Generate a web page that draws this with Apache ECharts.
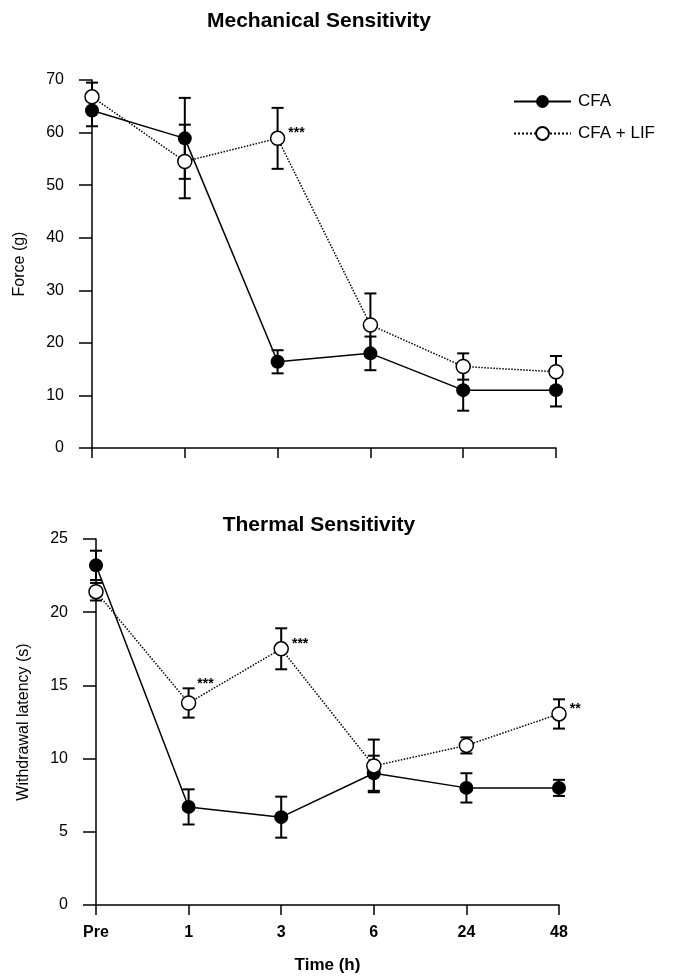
<!DOCTYPE html>
<html>
<head>
<meta charset="utf-8">
<script src="https://cdn.jsdelivr.net/npm/echarts@6/dist/echarts.min.js"></script>
<style>
  html, body { margin: 0; padding: 0; background: #fff; }
  #chart { width: 678px; height: 976px; }
</style>
</head>
<body>
<div id="chart"></div>
<script>
const cats = ['Pre', '1', '3', '6', '24', '48'];

// Mechanical sensitivity, force (g)
const mechCFA = [64.2, 58.9, 16.4, 18.0, 11.0, 11.0];
const mechCFAErr = [3.0, 7.7, 2.2, 3.2, 3.9, 3.1];
const mechLIF = [66.8, 54.5, 58.9, 23.4, 15.5, 14.5];
const mechLIFErr = [2.7, 7.0, 5.8, 6.0, 2.5, 3.0];
const mechSig = ['', '', '***', '', '', ''];

// Thermal sensitivity, withdrawal latency (s)
const thermCFA = [23.2, 6.7, 6.0, 9.0, 8.0, 8.0];
const thermCFAErr = [1.0, 1.2, 1.4, 1.2, 1.0, 0.55];
const thermLIF = [21.4, 13.8, 17.5, 9.5, 10.9, 13.05];
const thermLIFErr = [0.6, 1.0, 1.4, 1.8, 0.55, 1.0];
const thermSig = ['', '***', '***', '', '', '**'];

const font = 'Liberation Sans';

var dom = document.getElementById('chart');
var myChart = echarts.init(dom, null, { renderer: 'canvas' });

function errRender(params, api) {
  const x = api.value(0), m = api.value(1), e = api.value(2);
  const hi = api.coord([x, m + e]);
  const lo = api.coord([x, m - e]);
  const w = 6;
  const st = { stroke: '#000', lineWidth: 2 };
  return {
    type: 'group',
    children: [
      { type: 'line', shape: { x1: hi[0], y1: hi[1], x2: lo[0], y2: lo[1] }, style: st },
      { type: 'line', shape: { x1: hi[0] - w, y1: hi[1], x2: hi[0] + w, y2: hi[1] }, style: st },
      { type: 'line', shape: { x1: lo[0] - w, y1: lo[1], x2: lo[0] + w, y2: lo[1] }, style: st }
    ]
  };
}

function errSeries(name, idx, vals, errs) {
  return {
    type: 'custom',
    name: name,
    xAxisIndex: idx,
    yAxisIndex: idx,
    renderItem: errRender,
    encode: { x: 0, y: 1 },
    data: vals.map((v, i) => [i, v, errs[i]]),
    z: 1
  };
}

function cfaSeries(idx, vals) {
  return {
    type: 'line',
    name: 'CFA',
    xAxisIndex: idx,
    yAxisIndex: idx,
    data: vals,
    symbol: 'circle',
    symbolSize: 14,
    itemStyle: { color: '#000' },
    lineStyle: { color: '#000', width: 1.5 },
    z: 3
  };
}

function lifSeries(idx, vals, sig, offsets) {
  return {
    type: 'line',
    name: 'CFA + LIF',
    xAxisIndex: idx,
    yAxisIndex: idx,
    data: vals.map((v, i) => ({
      value: v,
      label: sig[i] ? { show: true, formatter: sig[i], offset: offsets[i] || [-2, -5] } : { show: false }
    })),
    symbol: 'circle',
    symbolSize: 14,
    itemStyle: { color: '#fff', borderColor: '#000', borderWidth: 1.5 },
    lineStyle: { color: '#000', width: 1.5, type: 'dotted' },
    label: { position: 'right', color: '#000', fontSize: 14, fontWeight: 'bold', fontFamily: font },
    z: 4
  };
}

function xAxis(idx, showLabels) {
  return {
    type: 'category',
    gridIndex: idx,
    data: cats,
    boundaryGap: false,
    axisLine: { lineStyle: { color: '#000', width: 1.5 } },
    axisTick: { show: true, length: 10, lineStyle: { color: '#000', width: 1.5 } },
    axisLabel: {
      show: showLabels, color: '#000', fontSize: 16, fontWeight: 'bold',
      fontFamily: font, margin: 20
    },
    name: showLabels ? 'Time (h)' : '',
    nameLocation: 'middle',
    nameGap: 52,
    nameTextStyle: { color: '#000', fontSize: 17, fontWeight: 'bold', fontFamily: font },
    splitLine: { show: false }
  };
}

function yAxis(idx, max, interval, name) {
  return {
    type: 'value',
    gridIndex: idx,
    min: 0,
    max: max,
    interval: interval,
    axisLine: { show: true, lineStyle: { color: '#000', width: 1.5 } },
    axisTick: { show: true, length: 13, lineStyle: { color: '#000', width: 1.5 } },
    axisLabel: { color: '#000', fontSize: 16, fontFamily: font, margin: 28 },
    splitLine: { show: false },
    name: name,
    nameLocation: 'middle',
    nameGap: 64,
    nameTextStyle: { color: '#000', fontSize: 16, fontFamily: font }
  };
}

var option = {
  animation: false,
  backgroundColor: '#fff',
  textStyle: { fontFamily: font },
  grid: [
    { left: 92, top: 80, width: 464, height: 368 },
    { left: 96, top: 539, width: 463, height: 366 }
  ],
  xAxis: [xAxis(0, false), xAxis(1, true)],
  yAxis: [
    yAxis(0, 70, 10, 'Force (g)'),
    yAxis(1, 25, 5, 'Withdrawal latency (s)')
  ],
  legend: {
    data: ['CFA', 'CFA + LIF'],
    orient: 'vertical',
    left: 508,
    top: 88,
    itemWidth: 57,
    itemHeight: 16,
    itemGap: 15,
    textStyle: { color: '#000', fontSize: 17, fontFamily: font, padding: [0, 0, 0, 2] }
  },
  graphic: [
    {
      type: 'text', x: 319, y: 21,
      style: {
        text: 'Mechanical Sensitivity', fill: '#000', align: 'center', verticalAlign: 'middle',
        font: 'bold 21px "Liberation Sans"'
      }
    },
    {
      type: 'text', x: 319, y: 525,
      style: {
        text: 'Thermal Sensitivity', fill: '#000', align: 'center', verticalAlign: 'middle',
        font: 'bold 21px "Liberation Sans"'
      }
    }
  ],
  series: [
    errSeries('CFA err top', 0, mechCFA, mechCFAErr),
    errSeries('LIF err top', 0, mechLIF, mechLIFErr),
    cfaSeries(0, mechCFA),
    lifSeries(0, mechLIF, mechSig, {}),
    errSeries('CFA err bottom', 1, thermCFA, thermCFAErr),
    errSeries('LIF err bottom', 1, thermLIF, thermLIFErr),
    cfaSeries(1, thermCFA),
    lifSeries(1, thermLIF, thermSig, { 1: [-4, -19] })
  ]
};

myChart.setOption(option);
window.addEventListener('resize', myChart.resize);
</script>
</body>
</html>
